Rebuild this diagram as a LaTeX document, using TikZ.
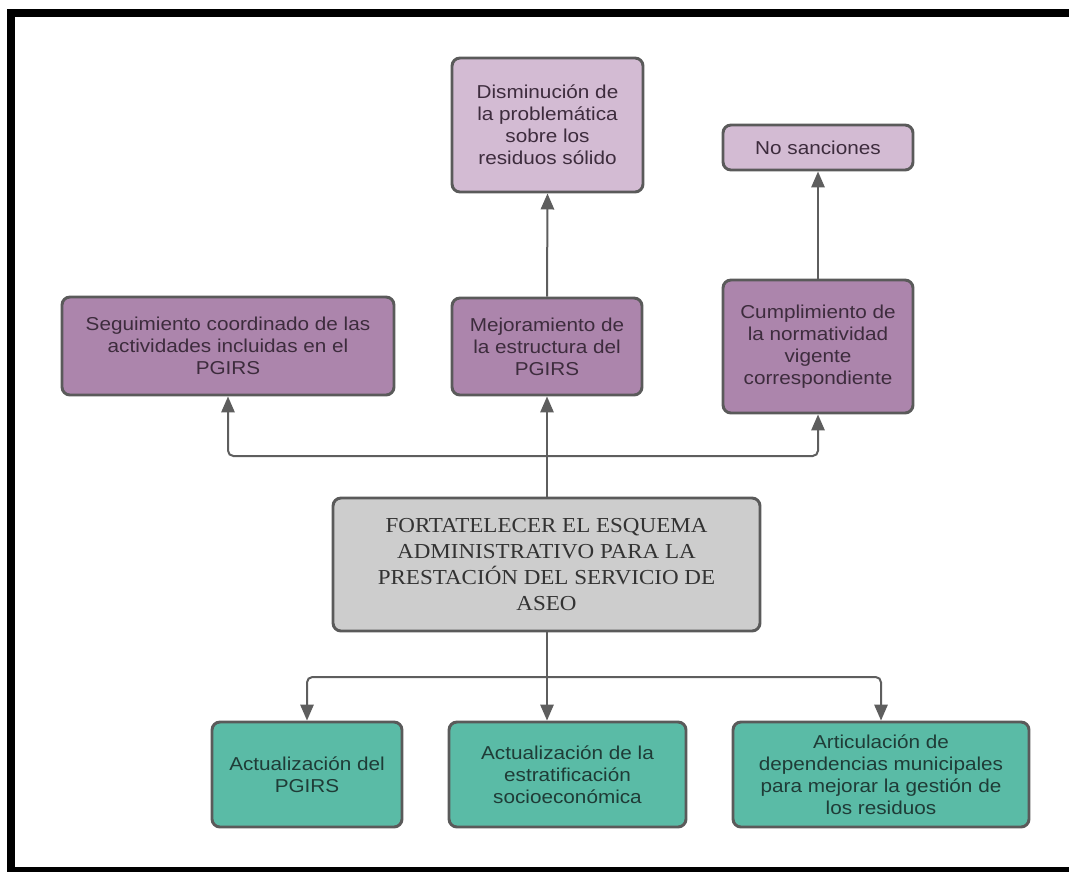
\documentclass[tikz,border=0pt]{standalone}
\usepackage{fontspec}
\usetikzlibrary{arrows.meta}
\newfontfamily\boxfont[FakeStretch=1.11]{Liberation Sans}
\newfontfamily\headfont[FakeStretch=1.08]{Liberation Serif}
\definecolor{lilac}{HTML}{D3BBD3}
\definecolor{mauve}{HTML}{AC85AC}
\definecolor{seagreen}{HTML}{5ABBA6}
\definecolor{greybox}{HTML}{CDCDCD}
\definecolor{edge}{HTML}{5A5A5A}
\definecolor{linegrey}{HTML}{5E5E5E}
\definecolor{inkpurple}{HTML}{3D2C3D}
\definecolor{inkgreen}{HTML}{1F3C37}
\tikzset{
  box/.style={draw=edge, line width=2.2pt, rounded corners=6pt, align=center,
    inner sep=2pt, font=\boxfont\fontsize{14}{16.5}\selectfont},
  topbox/.style={box, fill=lilac, text=inkpurple},
  midbox/.style={box, fill=mauve, text=inkpurple},
  lowbox/.style={box, fill=seagreen, text=inkgreen, minimum height=78.75pt},
  link/.style={draw=linegrey, line width=1.5pt, rounded corners=4pt,
    -{Triangle[width=10pt,length=12pt]}}
}
\begin{document}
\begin{tikzpicture}[x=0.75pt, y=-0.75pt]
    \useasboundingbox (0,0) rectangle (1069,872);
    % frame
    \fill[black] (7,9) rectangle (1069,17);
    \fill[black] (7,9) rectangle (15,872);
    \fill[black] (7,867) rectangle (1069,872);

    % effects
    \node[topbox, minimum width=143.25pt, minimum height=100.5pt] (dis) at (547.5,125)
        {Disminución de\\la problemática\\sobre los\\residuos sólido};
    \node[topbox, minimum width=142.5pt, minimum height=33.75pt] (nosan) at (818,147.5)
        {No sanciones};

    \node[midbox, minimum width=249pt, minimum height=73.5pt] (seg) at (228,346)
        {Seguimiento coordinado de las\\actividades incluidas en el\\PGIRS};
    \node[midbox, minimum width=142.5pt, minimum height=72.75pt] (mej) at (547,346.5)
        {Mejoramiento de\\la estructura del\\PGIRS};
    \node[midbox, minimum width=142.5pt, minimum height=99.75pt] (cum) at (818,346.5)
        {Cumplimiento de\\la normatividad\\vigente\\correspondiente};

    % central objective
    \node[box, fill=greybox, text=black!80, minimum width=320.25pt, minimum height=99.75pt,
        font=\headfont\fontsize{16}{19.5}\selectfont] (obj) at (546.5,564.5)
        {FORTATELECER EL ESQUEMA\\ADMINISTRATIVO PARA LA\\PRESTACIÓN DEL SERVICIO DE\\ASEO};

    % means
    \node[lowbox, minimum width=142.5pt] (act1) at (307,774.5)
        {Actualización del\\PGIRS};
    \node[lowbox, minimum width=177.75pt] (act2) at (567.5,774.5)
        {Actualización de la\\estratificación\\socioeconómica};
    \node[lowbox, minimum width=222pt] (art) at (881,774.5)
        {Articulación de\\dependencias municipales\\para mejorar la gestión de\\los residuos};

    % upward links
    \coordinate (topjoin) at (547,456);
    \draw[link] (obj.north -| topjoin) -- (mej.south);
    \draw[link] (topjoin) -| (seg.south);
    \draw[link] (topjoin) -| (cum.south);
    \draw[link] (mej.north) -- (dis.south);
    \draw[link] (cum.north) -- (nosan.south);

    % downward links
    \coordinate (botjoin) at (547,677);
    \draw[link] (obj.south -| botjoin) -- (botjoin |- act2.north);
    \draw[link] (botjoin) -| (act1.north);
    \draw[link] (botjoin) -| (art.north);
\end{tikzpicture}
\end{document}
